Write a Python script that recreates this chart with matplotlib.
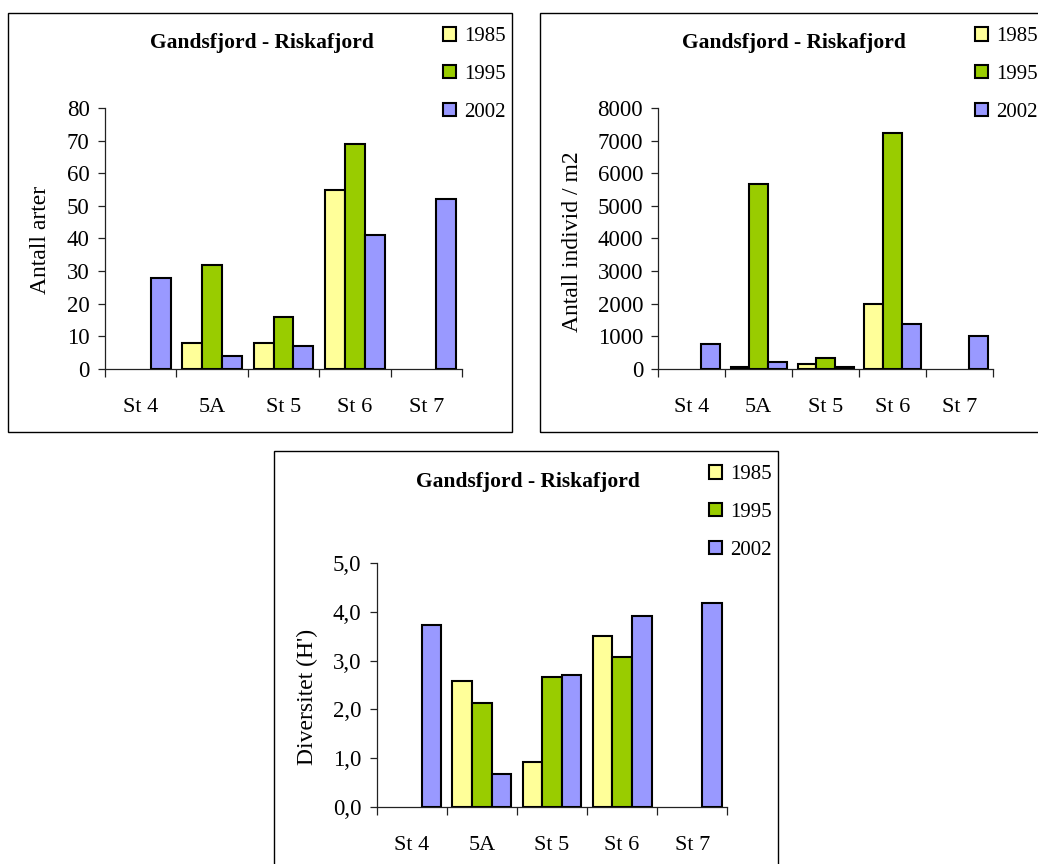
import matplotlib.pyplot as plt
from matplotlib.patches import Rectangle
from matplotlib.ticker import FixedLocator

plt.rcParams['font.family'] = ['Liberation Serif', 'DejaVu Serif']

stations = ['St 4', '5A', 'St 5', 'St 6', 'St 7']
years = ['1985', '1995', '2002']
colors = ['#FFFF99', '#99CC00', '#9999FF']
title = 'Gandsfjord - Riskafjord'

# antall arter (None = ikke prøvetatt)
arter_1985 = [None, 8, 8, 55, None]
arter_1995 = [None, 32, 16, 69, None]
arter_2002 = [28, 4, 7, 41, 52]

# antall individ per m2
ind_1985 = [None, 50, 160, 2000, None]
ind_1995 = [None, 5680, 330, 7220, None]
ind_2002 = [780, 220, 60, 1380, 1000]

# diversitet H'
div_1985 = [None, 2.59, 0.92, 3.51, None]
div_1995 = [None, 2.14, 2.66, 3.08, None]
div_2002 = [3.73, 0.67, 2.70, 3.92, 4.18]

W, H = 1038, 864
fig = plt.figure(figsize=(W / 100, H / 100), dpi=100)


def fx(px):
    return px / W


def fy(py):
    return 1 - py / H


def panel(box, axbox, series, ymax, ystep, ylabel, ylabel_xy, title_xy,
          legend_xy, yfmt):
    # ramme rundt hvert diagram
    x0, y0, x1, y1 = box
    fig.patches.append(Rectangle((fx(x0), fy(y1)), fx(x1 - x0), (y1 - y0) / H,
                                 transform=fig.transFigure, fill=False,
                                 edgecolor='black', linewidth=1.0))
    l, t, r, b = axbox
    ax = fig.add_axes([fx(l), fy(b), fx(r - l), (b - t) / H])
    w = 0.28
    for i, (vals, c, yr) in enumerate(zip(series, colors, years)):
        xs = [k + (i - 1) * w for k, v in enumerate(vals) if v is not None]
        hs = [v for v in vals if v is not None]
        ax.bar(xs, hs, width=w, color=c, edgecolor='black', linewidth=1.5,
               label=yr, zorder=3)
    ax.set_xlim(-0.5, len(stations) - 0.5)
    ax.set_ylim(0, ymax)
    ax.spines['top'].set_visible(False)
    ax.spines['right'].set_visible(False)
    for s in ('left', 'bottom'):
        ax.spines[s].set_linewidth(0.9)
        ax.spines[s].set_color('#222222')
    ax.set_xticks(range(len(stations)))
    ax.set_xticklabels(stations)
    ax.xaxis.set_minor_locator(FixedLocator([k - 0.5 for k in range(len(stations) + 1)]))
    ax.tick_params(axis='x', which='major', length=0, pad=21, labelsize=16)
    ax.tick_params(axis='x', which='minor', length=6, width=0.9, color='#222222')
    yt = [ystep * k for k in range(int(round(ymax / ystep)) + 1)]
    ax.set_yticks(yt)
    ax.set_yticklabels([yfmt(v) for v in yt])
    ax.tick_params(axis='y', length=5, width=0.9, pad=6, labelsize=16.5,
                   color='#222222')
    fig.text(fx(ylabel_xy[0]), fy(ylabel_xy[1]), ylabel, rotation=90,
             ha='center', va='center', fontsize=17)
    fig.text(fx(title_xy[0]), fy(title_xy[1]), title, ha='center',
             va='center', fontsize=15.5, fontweight='bold')
    ax.legend(loc='upper left', bbox_to_anchor=(fx(legend_xy[0]), fy(legend_xy[1])),
              bbox_transform=fig.transFigure, frameon=False, fontsize=15,
              borderpad=0, borderaxespad=0, handlelength=0.62,
              handleheight=0.62, handletextpad=0.4, labelspacing=0.9)
    return ax


panel((8, 12.7, 512, 432), (105, 108, 462, 369),
      [arter_1985, arter_1995, arter_2002], 80, 10, 'Antall arter',
      (40, 240), (262, 43), (443, 27), lambda v: f'{v:.0f}')

panel((540, 12.7, 1045, 432), (658.3, 108, 993, 369),
      [ind_1985, ind_1995, ind_2002], 8000, 1000, 'Antall individ / m2',
      (572, 242), (794, 43), (975, 27), lambda v: f'{v:.0f}')

panel((274, 451, 778, 870), (376.7, 563.3, 727.3, 806.7),
      [div_1985, div_1995, div_2002], 5.0, 1.0, "Diversitet (H')",
      (307, 697), (528, 482), (709, 465), lambda v: f'{v:.1f}'.replace('.', ','))

fig.savefig('out.png', dpi=100, facecolor='white')
